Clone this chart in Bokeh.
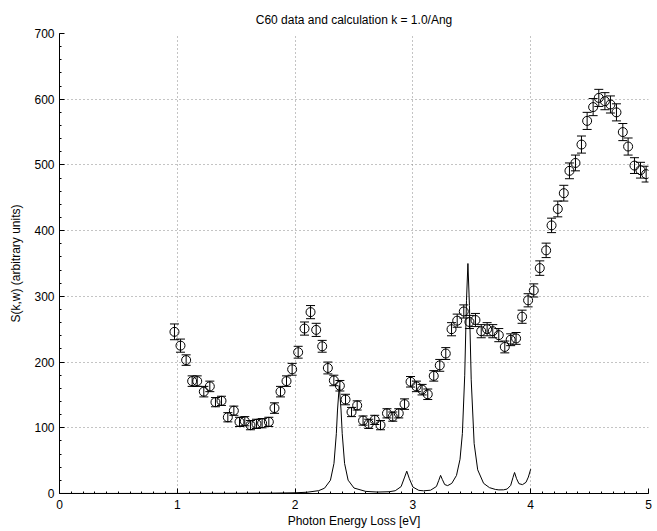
from bokeh.plotting import figure
from bokeh.models import ColumnDataSource, Whisker, TeeHead, SingleIntervalTicker, Range1d
from bokeh.embed import file_html
from bokeh.resources import INLINE

# measured data (open circles with error bars)
data_x = [0.976, 1.027, 1.075, 1.126, 1.169, 1.225, 1.276, 1.324, 1.375, 1.429,
          1.48, 1.528, 1.573, 1.621, 1.672, 1.72, 1.777, 1.825, 1.876, 1.927,
          1.975, 2.026, 2.08, 2.131, 2.179, 2.23, 2.278, 2.329, 2.38, 2.428,
          2.479, 2.527, 2.577, 2.625, 2.676, 2.725, 2.78, 2.829, 2.88, 2.929,
          2.98, 3.03, 3.078, 3.126, 3.177, 3.228, 3.279, 3.328, 3.376, 3.432,
          3.48, 3.531, 3.58, 3.63, 3.678, 3.729, 3.78, 3.83, 3.876, 3.927,
          3.978, 4.026, 4.077, 4.131, 4.177, 4.23, 4.281, 4.329, 4.38, 4.431,
          4.479, 4.53, 4.578, 4.63, 4.677, 4.728, 4.782, 4.827, 4.881, 4.932, 4.98]
data_y = [246, 225, 203, 171, 171, 155, 163, 139, 141, 116,
          126, 109, 110, 104, 106, 107, 109, 130, 155, 171,
          189, 215, 251, 276, 249, 224, 191, 172, 164, 143,
          124, 134, 111, 106, 112, 104, 122, 117, 122, 136,
          170, 163, 158, 151, 179, 195, 213, 250, 263, 277,
          261, 264, 247, 250, 247, 241, 223, 234, 236, 269,
          294, 309, 343, 370, 408, 433, 457, 491, 503, 531,
          567, 588, 602, 597, 592, 580, 550, 528, 499, 492, 486]
data_err = [12, 10, 8, 8, 8, 8, 8, 7, 7, 7,
            7, 7, 7, 7, 7, 7, 7, 8, 8, 8,
            9, 9, 10, 10, 10, 9, 9, 8, 8, 8,
            7, 7, 7, 7, 7, 7, 7, 7, 7, 8,
            8, 8, 8, 8, 8, 9, 9, 10, 10, 10,
            10, 10, 10, 10, 10, 10, 9, 9, 9, 10,
            10, 10, 11, 11, 11, 12, 12, 12, 12, 13,
            13, 13, 13, 13, 13, 13, 13, 13, 12, 12, 12]

# calculated spectrum (solid line)
calc_x = [0.0, 0.5, 1.0, 1.5, 1.8, 2.0, 2.1, 2.2, 2.25, 2.3, 2.33, 2.35, 2.36, 2.375,
          2.39, 2.40, 2.42, 2.45, 2.5, 2.6, 2.7, 2.8, 2.85, 2.9, 2.93, 2.948, 2.97,
          3.0, 3.05, 3.09, 3.15, 3.2, 3.22, 3.235, 3.25, 3.27, 3.295, 3.33, 3.37,
          3.4, 3.42, 3.44, 3.455, 3.467, 3.48, 3.495, 3.52, 3.55, 3.6, 3.65, 3.7,
          3.73, 3.77, 3.8, 3.83, 3.85, 3.863, 3.88, 3.9, 3.93, 3.96, 3.98, 4.0]
calc_y = [0.05, 0.08, 0.13, 0.27, 0.52, 1.1, 1.9, 4.3, 8.1, 20.2, 45.8, 91.0, 127.0, 164.0,
          127.0, 91.0, 45.8, 20.3, 8.3, 3.2, 2.2, 2.7, 4.2, 10.5, 25.0, 34.0, 22.5,
          9.8, 4.8, 4.1, 5.0, 10.7, 20.1, 27.6, 21.3, 13.6, 12.0, 15.4, 27.5,
          52.1, 91.2, 180.0, 294.0, 350.0, 286.0, 173.0, 76.0, 36.0, 15.5, 8.9, 6.2,
          5.5, 5.6, 6.8, 12.3, 24.6, 32.0, 22.5, 15.0, 13.5, 17.0, 25.0, 37.0]

title_text = "C60 data and calculation k = 1.0/Ang"
x_min, x_max = 0, 5
y_min, y_max = 0, 700
x_ticks_interval = 1
y_ticks_interval = 100

p = figure(width=656, height=530, output_backend="svg", toolbar_location=None,
           x_range=Range1d(x_min, x_max), y_range=Range1d(y_min, y_max),
           min_border_left=59, min_border_right=8, min_border_top=33, min_border_bottom=35,
           background_fill_color="white", border_fill_color="white")
p.outline_line_color = None

p.title.text = title_text
p.title.align = "center"
p.title.vertical_align = "top"
p.title.text_font = "Liberation Sans"
p.title.text_font_style = "normal"
p.title.text_font_size = "12px"
p.title.text_color = "black"
p.title.offset = 0
p.title.standoff = 10

p.xaxis.ticker = SingleIntervalTicker(interval=x_ticks_interval, num_minor_ticks=10)
p.yaxis.ticker = SingleIntervalTicker(interval=y_ticks_interval, num_minor_ticks=5)

for ax in (p.xaxis[0], p.yaxis[0]):
    ax.major_tick_out = 0
    ax.major_tick_in = 5
    ax.minor_tick_out = 0
    ax.minor_tick_in = 2
    ax.axis_line_color = "black"
    ax.major_tick_line_color = "black"
    ax.minor_tick_line_color = "black"
    ax.major_label_text_font = "Liberation Sans"
    ax.major_label_text_font_size = "12px"
    ax.major_label_text_color = "black"
    ax.axis_label_text_font = "Liberation Sans"
    ax.axis_label_text_font_size = "12px"
    ax.axis_label_text_font_style = "normal"
    ax.axis_label_text_color = "black"

p.xaxis.axis_label = "Photon Energy Loss [eV]"
p.yaxis.axis_label = "S(k,w) (arbitrary units)"
p.xaxis.major_label_standoff = 6
p.xaxis.axis_label_standoff = 2
p.yaxis.major_label_standoff = 5
p.yaxis.axis_label_standoff = 8

for g in (p.xgrid[0], p.ygrid[0]):
    g.grid_line_color = "#888888"
    g.grid_line_dash = "1 3"
    g.grid_line_width = 1

# calculated curve
p.line(calc_x, calc_y, line_color="black", line_width=1)

# data with error bars
lower = [y - e for y, e in zip(data_y, data_err)]
upper = [y + e for y, e in zip(data_y, data_err)]
src = ColumnDataSource(data=dict(x=data_x, y=data_y, lower=lower, upper=upper))
w = Whisker(base="x", lower="lower", upper="upper", source=src,
            line_color="black", line_width=1,
            upper_head=TeeHead(size=9, line_color="black", line_width=1),
            lower_head=TeeHead(size=9, line_color="black", line_width=1))
p.add_layout(w)
p.scatter("x", "y", source=src, marker="circle", size=9,
          fill_color=None, line_color="black", line_width=1)

open("out.html", "w").write(file_html(p, INLINE))
